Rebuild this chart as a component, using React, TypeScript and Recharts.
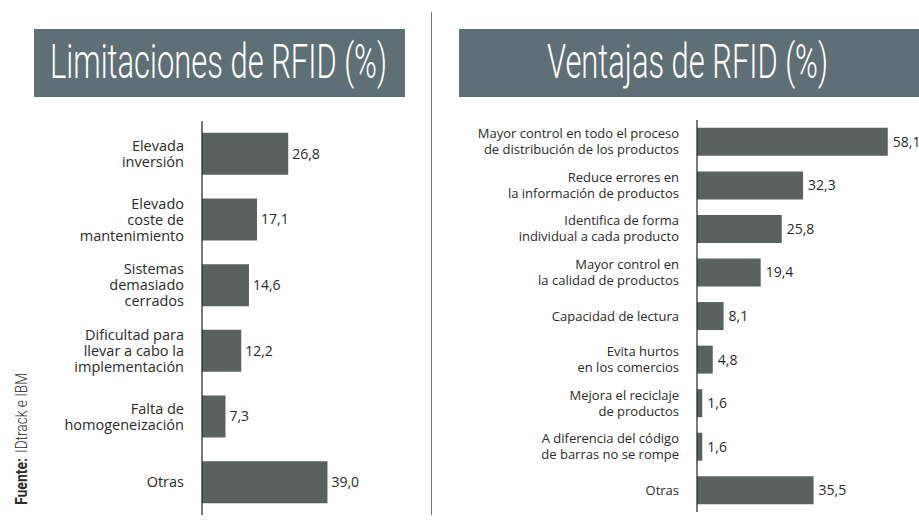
import { BarChart, Bar, XAxis, YAxis, LabelList } from 'recharts';

const limitCategories = [
  'Elevada\ninversión',
  'Elevado\ncoste de\nmantenimiento',
  'Sistemas\ndemasiado\ncerrados',
  'Dificultad para\nllevar a cabo la\nimplementación',
  'Falta de\nhomogeneización',
  'Otras',
];
const limitValues = [26.8, 17.1, 14.6, 12.2, 7.3, 39.0];

const advCategories = [
  'Mayor control en todo el proceso\nde distribución de los productos',
  'Reduce errores en\nla información de productos',
  'Identifica de forma\nindividual a cada producto',
  'Mayor control en\nla calidad de productos',
  'Capacidad de lectura',
  'Evita hurtos\nen los comercios',
  'Mejora el reciclaje\nde productos',
  'A diferencia del código\nde barras no se rompe',
  'Otras',
];
const advValues = [58.1, 32.3, 25.8, 19.4, 8.1, 4.8, 1.6, 1.6, 35.5];

const BAR = '#59625f';
const TITLE_BG = '#5f6f76';
const TEXT = '#2a2a2a';
const FONT = '"Open Sans", "Noto Sans", sans-serif';

const fmt = (v: number) => v.toFixed(1).replace('.', ',');

function makeTick(fontSize: number, lineHeight: number) {
  return function Tick(props: any) {
    const { x, y, payload } = props;
    const lines = String(payload.value).split('\n');
    const startDy = -((lines.length - 1) / 2) * lineHeight + fontSize * 0.35;
    return (
      <text x={x - 10} y={y} textAnchor="end" fill={TEXT} fontSize={fontSize} fontFamily={FONT}>
        {lines.map((l, i) => (
          <tspan key={i} x={x - 10} dy={i === 0 ? startDy : lineHeight}>
            {l}
          </tspan>
        ))}
      </text>
    );
  };
}

function TitleBox({ left, width, text, textX, textW }: { left: number; width: number; text: string; textX: number; textW: number }) {
  return (
    <svg style={{ position: 'absolute', left, top: 29, overflow: 'visible' }} width={width} height={68}>
      <rect x={0} y={0} width={width} height={68} fill={TITLE_BG} />
      <text
        x={textX}
        y={49}
        fill="#ffffff"
        fontSize={48}
        fontWeight={300}
        fontFamily="Roboto, 'Liberation Sans Narrow', sans-serif"
        textLength={textW}
        lengthAdjust="spacingAndGlyphs"
      >
        {text}
      </text>
    </svg>
  );
}

export default function App() {
  const limitData = limitCategories.map((name, i) => ({ name, value: limitValues[i] }));
  const advData = advCategories.map((name, i) => ({ name, value: advValues[i] }));

  return (
    <div style={{ position: 'fixed', left: 0, top: 0, width: 919, height: 520, background: '#fff', overflow: 'hidden' }}>
      <TitleBox left={34} width={371} text="Limitaciones de RFID (%)" textX={16} textW={337} />
      <TitleBox left={459} width={460} text="Ventajas de RFID (%)" textX={88} textW={281} />

      <div style={{ position: 'absolute', left: 431, top: 12, width: 1, height: 503, background: '#777' }} />

      <svg style={{ position: 'absolute', left: 0, top: 355, overflow: 'visible' }} width={40} height={160}>
        <text transform="translate(27,150) rotate(-90)" fontSize={17} fill={TEXT} fontFamily="Roboto, sans-serif">
          <tspan fontWeight={700} textLength={47} lengthAdjust="spacingAndGlyphs">Fuente:</tspan>
          <tspan fontWeight={300} dx={5} textLength={80} lengthAdjust="spacingAndGlyphs">IDtrack e IBM</tspan>
        </text>
      </svg>

      <div style={{ position: 'absolute', left: 0, top: 0 }}>
        <BarChart
          width={430}
          height={520}
          data={limitData}
          layout="vertical"
          margin={{ top: 121, right: 35, bottom: 5, left: 0 }}
          barCategoryGap="18%"
        >
          <XAxis type="number" domain={[0, 60]} hide />
          <YAxis
            type="category"
            dataKey="name"
            width={202}
            tickLine={false}
            axisLine={{ stroke: '#222', strokeWidth: 1.2 }}
            tick={makeTick(14.5, 16)}
            interval={0}
          />
          <Bar dataKey="value" fill={BAR} isAnimationActive={false}>
            <LabelList
              dataKey="value"
              position="right"
              offset={4}
              formatter={(v: any) => fmt(Number(v))}
              fill={TEXT}
              fontSize={14}
              fontFamily={FONT}
            />
          </Bar>
        </BarChart>
      </div>

      <div style={{ position: 'absolute', left: 440, top: 0 }}>
        <BarChart
          width={479}
          height={520}
          data={advData}
          layout="vertical"
          margin={{ top: 120, right: 25, bottom: 8, left: 0 }}
          barCategoryGap="18%"
        >
          <XAxis type="number" domain={[0, 60]} hide />
          <YAxis
            type="category"
            dataKey="name"
            width={257}
            tickLine={false}
            axisLine={{ stroke: '#222', strokeWidth: 1.2 }}
            tick={makeTick(13, 16)}
            interval={0}
          />
          <Bar dataKey="value" fill={BAR} isAnimationActive={false}>
            <LabelList
              dataKey="value"
              position="right"
              offset={5}
              formatter={(v: any) => fmt(Number(v))}
              fill={TEXT}
              fontSize={14}
              fontFamily={FONT}
            />
          </Bar>
        </BarChart>
      </div>
    </div>
  );
}
